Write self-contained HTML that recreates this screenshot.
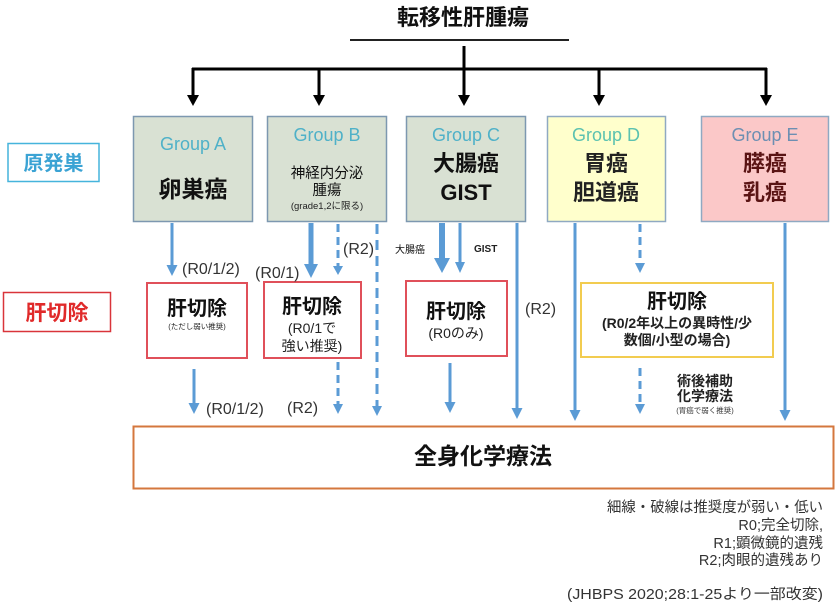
<!DOCTYPE html>
<html>
<head>
<meta charset="utf-8">
<style>
html,body{margin:0;padding:0;background:#fff;}
svg{display:block;}
text{font-family:"Liberation Sans","Noto Sans CJK JP",sans-serif;}
</style>
</head>
<body>
<svg width="838" height="607" viewBox="0 0 838 607" xmlns="http://www.w3.org/2000/svg">
<!-- Title -->
<text x="463" y="25" font-size="22" font-weight="700" text-anchor="middle" fill="#111">転移性肝腫瘍</text>
<line x1="350" y1="40" x2="569" y2="40" stroke="#222" stroke-width="2"/>

<!-- black tree -->
<g stroke="#000" stroke-width="3" fill="none">
  <line x1="464" y1="46" x2="464" y2="97"/>
  <line x1="192" y1="69" x2="767" y2="69"/>
  <line x1="193" y1="68" x2="193" y2="97"/>
  <line x1="319" y1="68" x2="319" y2="97"/>
  <line x1="599" y1="68" x2="599" y2="97"/>
  <line x1="766" y1="68" x2="766" y2="97"/>
</g>
<g fill="#000">
  <polygon points="187,95 199,95 193,106"/>
  <polygon points="313,95 325,95 319,106"/>
  <polygon points="458,95 470,95 464,106"/>
  <polygon points="593,95 605,95 599,106"/>
  <polygon points="760,95 772,95 766,106"/>
</g>

<!-- left labels -->
<rect x="8" y="143.5" width="91" height="38" fill="#fff" stroke="#45b4dc" stroke-width="1.5"/>
<text x="53.5" y="170" font-size="20" font-weight="700" text-anchor="middle" fill="#3ba3d4">原発巣</text>
<rect x="3.5" y="292.5" width="107" height="39" fill="#fff" stroke="#d9343a" stroke-width="1.5"/>
<text x="57" y="320" font-size="21" font-weight="700" text-anchor="middle" fill="#e02a2a">肝切除</text>

<!-- Group boxes -->
<rect x="133.5" y="116.5" width="119" height="105" fill="#d9e1d3" stroke="#7d98b0" stroke-width="1.5"/>
<rect x="267.5" y="116.5" width="119" height="105" fill="#d9e1d3" stroke="#7d98b0" stroke-width="1.5"/>
<rect x="406.5" y="116.5" width="119" height="105" fill="#d9e1d3" stroke="#7d98b0" stroke-width="1.5"/>
<rect x="547.5" y="116.5" width="118" height="105" fill="#ffffcc" stroke="#8fa9c2" stroke-width="1.5"/>
<rect x="701.5" y="116.5" width="127" height="105" fill="#fbc8c8" stroke="#8fa9c2" stroke-width="1.5"/>

<text x="193" y="150" font-size="18" text-anchor="middle" fill="#4fb1c8">Group A</text>
<text x="193" y="197" font-size="23" font-weight="700" text-anchor="middle" fill="#111">卵巣癌</text>

<text x="327" y="141" font-size="18" text-anchor="middle" fill="#4fb1c8">Group B</text>
<text x="327" y="178" font-size="14.5" text-anchor="middle" fill="#111">神経内分泌</text>
<text x="327" y="195" font-size="14.5" text-anchor="middle" fill="#111">腫瘍</text>
<text x="327" y="209" font-size="9.5" text-anchor="middle" fill="#222">(grade1,2に限る)</text>

<text x="466" y="141" font-size="18" text-anchor="middle" fill="#4fb1c8">Group C</text>
<text x="466" y="171" font-size="22" font-weight="700" text-anchor="middle" fill="#111">大腸癌</text>
<text x="466" y="200" font-size="22" font-weight="700" text-anchor="middle" fill="#111">GIST</text>

<text x="606" y="141" font-size="18" text-anchor="middle" fill="#5cc2b0">Group D</text>
<text x="606" y="171" font-size="22" font-weight="700" text-anchor="middle" fill="#222">胃癌</text>
<text x="606" y="200" font-size="22" font-weight="700" text-anchor="middle" fill="#222">胆道癌</text>

<text x="765" y="141" font-size="18" text-anchor="middle" fill="#6d8fb2">Group E</text>
<text x="765" y="171" font-size="22" font-weight="700" text-anchor="middle" fill="#5a1414">膵癌</text>
<text x="765" y="200" font-size="22" font-weight="700" text-anchor="middle" fill="#5a1414">乳癌</text>

<!-- second row boxes -->
<rect x="147" y="283" width="100" height="75" fill="#fff" stroke="#e0505a" stroke-width="2"/>
<text x="197" y="315" font-size="20" font-weight="700" text-anchor="middle" fill="#111">肝切除</text>
<text x="197" y="329" font-size="7.5" text-anchor="middle" fill="#222">(ただし弱い推奨)</text>

<rect x="264" y="282" width="97" height="76" fill="#fff" stroke="#e0505a" stroke-width="2"/>
<text x="312" y="313" font-size="20" font-weight="700" text-anchor="middle" fill="#111">肝切除</text>
<text x="312" y="333" font-size="14" text-anchor="middle" fill="#222">(R0/1で</text>
<text x="312" y="351" font-size="14" text-anchor="middle" fill="#222">強い推奨)</text>

<rect x="406" y="281" width="101" height="75" fill="#fff" stroke="#e0505a" stroke-width="2"/>
<text x="456" y="318" font-size="20" font-weight="700" text-anchor="middle" fill="#111">肝切除</text>
<text x="456" y="338" font-size="14" text-anchor="middle" fill="#222">(R0のみ)</text>

<rect x="581" y="283" width="192" height="74" fill="#fff" stroke="#f2cc50" stroke-width="2"/>
<text x="677" y="308" font-size="20" font-weight="700" text-anchor="middle" fill="#111">肝切除</text>
<text x="677" y="328" font-size="14" font-weight="700" text-anchor="middle" fill="#222">(R0/2年以上の異時性/少</text>
<text x="677" y="345" font-size="14" font-weight="700" text-anchor="middle" fill="#222">数個/小型の場合)</text>

<!-- blue arrows -->
<g stroke="#5b9bd5" fill="none">
  <line x1="172" y1="223" x2="172" y2="267" stroke-width="3"/>
  <line x1="311" y1="223" x2="311" y2="266" stroke-width="5"/>
  <line x1="338" y1="224" x2="338" y2="268" stroke-width="3" stroke-dasharray="8,5"/>
  <line x1="377" y1="224" x2="377" y2="408" stroke-width="3" stroke-dasharray="10,6"/>
  <line x1="442" y1="223" x2="442" y2="260" stroke-width="6"/>
  <line x1="460" y1="223" x2="460" y2="264" stroke-width="3"/>
  <line x1="517" y1="223" x2="517" y2="410" stroke-width="3"/>
  <line x1="575" y1="223" x2="575" y2="412" stroke-width="3"/>
  <line x1="640" y1="224" x2="640" y2="264" stroke-width="3" stroke-dasharray="8,5"/>
  <line x1="785" y1="223" x2="785" y2="412" stroke-width="3"/>
  <line x1="194" y1="369" x2="194" y2="405" stroke-width="3"/>
  <line x1="338" y1="362" x2="338" y2="405" stroke-width="3" stroke-dasharray="8,5"/>
  <line x1="450" y1="363" x2="450" y2="404" stroke-width="3"/>
  <line x1="640" y1="368" x2="640" y2="405" stroke-width="3" stroke-dasharray="8,5"/>
</g>
<g fill="#5b9bd5">
  <polygon points="166.5,265 177.5,265 172,276"/>
  <polygon points="304,264 318,264 311,278"/>
  <polygon points="333,266 343,266 338,275"/>
  <polygon points="372,406 382,406 377,416"/>
  <polygon points="434,258 450,258 442,273"/>
  <polygon points="455,262 465,262 460,273"/>
  <polygon points="511.5,408 522.5,408 517,419"/>
  <polygon points="569.5,410 580.5,410 575,421"/>
  <polygon points="635,263 645,263 640,273"/>
  <polygon points="779.5,410 790.5,410 785,421"/>
  <polygon points="188.5,403 199.5,403 194,414"/>
  <polygon points="333,404 343,404 338,414"/>
  <polygon points="444.5,402 455.5,402 450,413"/>
  <polygon points="635,404 645,404 640,414"/>
</g>

<!-- arrow labels -->
<g font-size="16" fill="#333">
  <text x="182" y="274">(R0/1/2)</text>
  <text x="255" y="278">(R0/1)</text>
  <text x="343" y="254">(R2)</text>
  <text x="525" y="314">(R2)</text>
  <text x="206" y="414">(R0/1/2)</text>
  <text x="287" y="413">(R2)</text>
</g>
<text x="395" y="253" font-size="10" fill="#111">大腸癌</text>
<text x="474" y="252" font-size="10" font-weight="700" fill="#222">GIST</text>

<text x="705" y="386" font-size="14" font-weight="700" text-anchor="middle" fill="#222">術後補助</text>
<text x="705" y="401" font-size="14" font-weight="700" text-anchor="middle" fill="#222">化学療法</text>
<text x="705" y="413" font-size="7.5" text-anchor="middle" fill="#333">(胃癌で弱く推奨)</text>

<!-- bottom box -->
<rect x="133.5" y="426.5" width="700" height="62" fill="#fff" stroke="#d4773e" stroke-width="2"/>
<text x="483" y="464" font-size="23" font-weight="700" text-anchor="middle" fill="#111">全身化学療法</text>

<!-- notes -->
<g font-size="14.5" fill="#333">
  <text x="607" y="512" textLength="216" lengthAdjust="spacingAndGlyphs">細線・破線は推奨度が弱い・低い</text>
  <text x="823" y="530" text-anchor="end">R0;完全切除,</text>
  <text x="823" y="548" text-anchor="end">R1;顕微鏡的遺残</text>
  <text x="823" y="565" text-anchor="end">R2;肉眼的遺残あり</text>
  <text x="567" y="599" textLength="256" lengthAdjust="spacingAndGlyphs">(JHBPS 2020;28:1-25より一部改変)</text>
</g>
</svg>
</body>
</html>
